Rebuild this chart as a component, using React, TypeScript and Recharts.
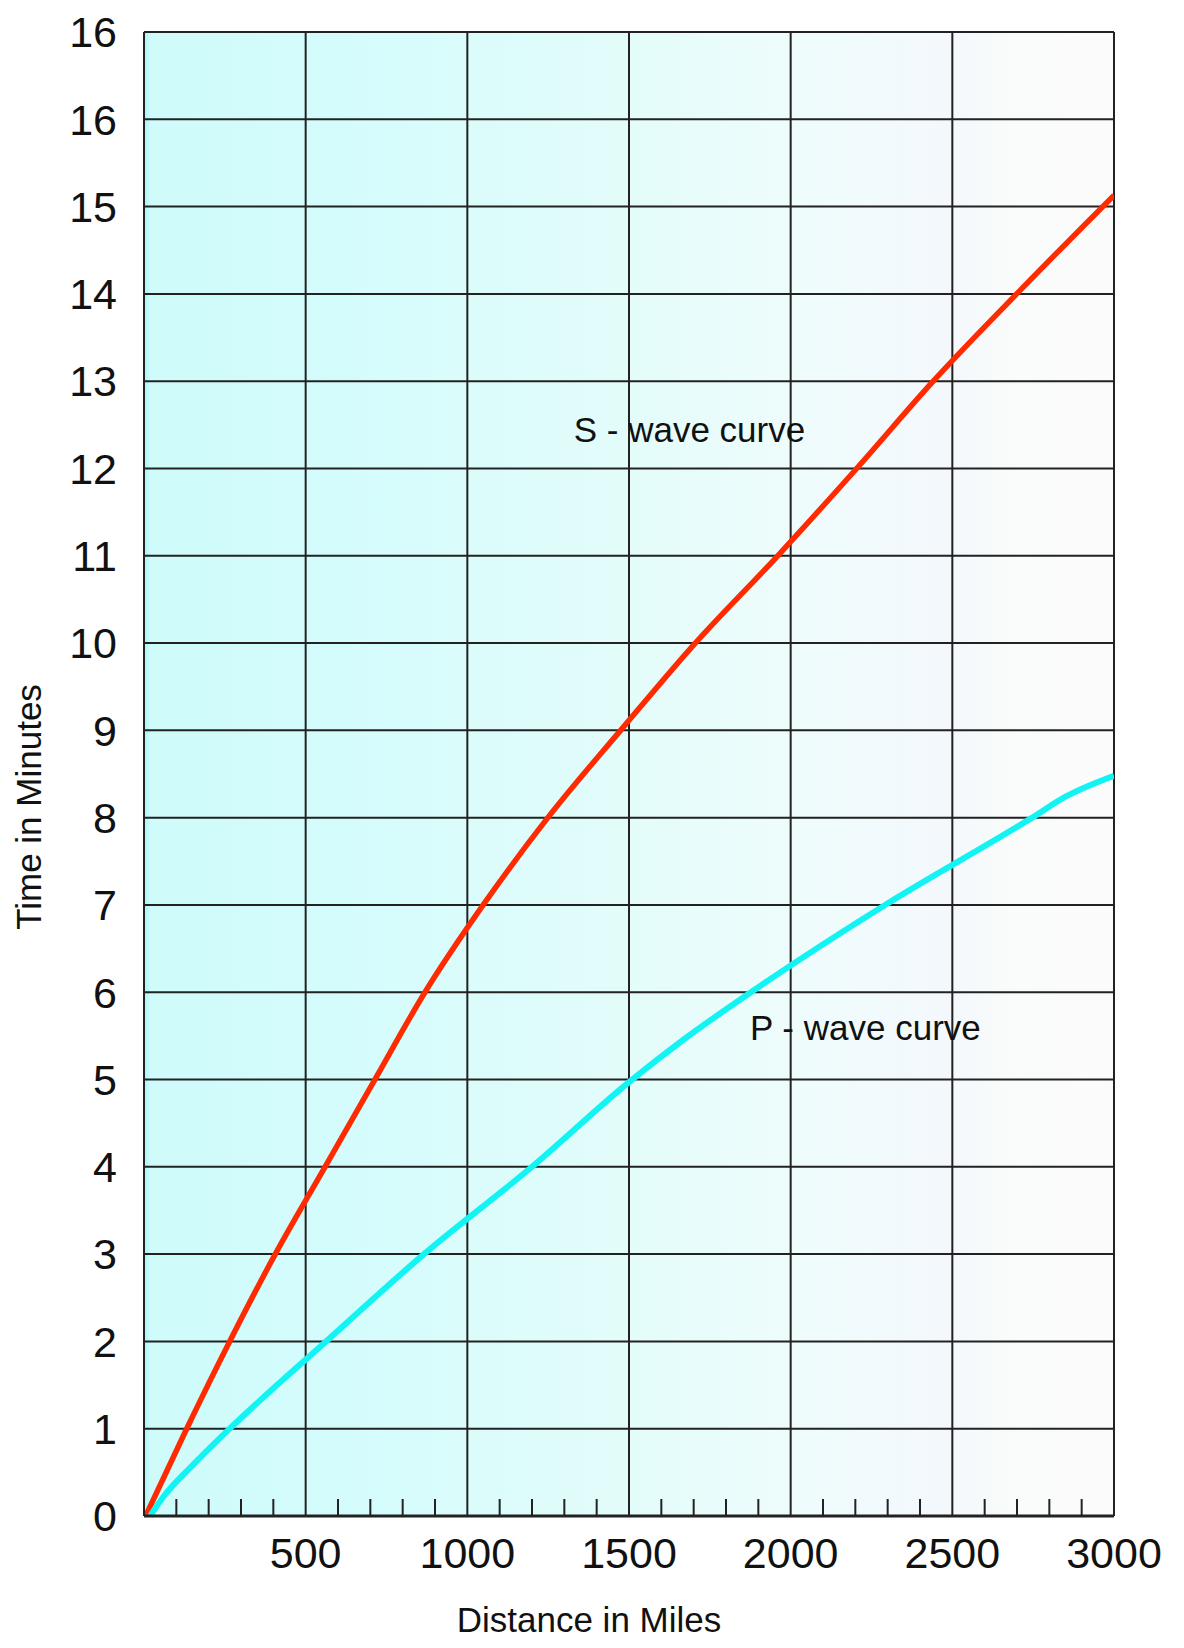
import React from "react";
import {
  LineChart,
  Line,
  XAxis,
  YAxis,
  CartesianGrid,
  ReferenceDot,
  Label,
} from "recharts";

// S-wave travel time (miles -> minutes)
const sWaveMiles = [5, 132, 265, 406, 560, 714, 869, 1049, 1249, 1474, 1705, 1960, 2204, 2441, 2699, 3000];
const sWaveMinutes = [0, 1, 2, 3, 4, 5, 6, 7, 8, 9, 10, 11, 12, 13, 14, 15.13];

// P-wave travel time (miles -> minutes)
const pWaveMiles = [19, 60, 150, 265, 563, 866, 1200, 1500, 1666, 1877, 2292, 2747, 2850, 3000];
const pWaveMinutes = [0, 0.22, 0.58, 1, 2, 3, 4, 4.97, 5.45, 6, 7, 8, 8.24, 8.48];

// Axis ticks
const yTickValues = [0, 1, 2, 3, 4, 5, 6, 7, 8, 9, 10, 11, 12, 13, 14, 15, 16, 17];
const yTickLabels = ["0", "1", "2", "3", "4", "5", "6", "7", "8", "9", "10", "11", "12", "13", "14", "15", "16", "16"];
const xTickValues = [100, 200, 300, 400, 500, 600, 700, 800, 900, 1000, 1100, 1200, 1300, 1400, 1500, 1600, 1700, 1800, 1900, 2000, 2100, 2200, 2300, 2400, 2500, 2600, 2700, 2800, 2900, 3000];
const xMajorTicks = [500, 1000, 1500, 2000, 2500, 3000];
const gridVerticals = [0, 500, 1000, 1500, 2000, 2500, 3000];

// Curve labels (data coordinates)
const curveLabels = [
  { text: "S - wave curve", miles: 1687, minutes: 12.44 },
  { text: "P - wave curve", miles: 2231, minutes: 5.6 },
];

const sWaveData = sWaveMiles.map((m, i) => ({ miles: m, minutes: sWaveMinutes[i] }));
const pWaveData = pWaveMiles.map((m, i) => ({ miles: m, minutes: pWaveMinutes[i] }));

const FONT = "'Liberation Sans', Arial, Helvetica, sans-serif";
const INK = "#111";
const GRID = "#222";

const XTick = (props: any) => {
  const { x, y, payload } = props;
  const v = payload.value;
  const major = xMajorTicks.includes(v);
  return (
    <g>
      {!major && (
        <line x1={x} x2={x} y1={y} y2={y - 17} stroke={GRID} strokeWidth={2} />
      )}
      {major && (
        <text x={x} y={y + 52} textAnchor="middle" fontSize={43} fill={INK} fontFamily={FONT}>
          {String(v)}
        </text>
      )}
    </g>
  );
};

const YTitle = (props: any) => {
  const vb = props.viewBox || { x: 0, y: 0, width: 0, height: 0 };
  const cx = vb.x + 20;
  const cy = vb.y + vb.height / 2 + 33;
  return (
    <text
      x={cx}
      y={cy}
      transform={`rotate(-90 ${cx} ${cy})`}
      textAnchor="middle"
      dominantBaseline="central"
      fontSize={35}
      fill={INK}
      fontFamily={FONT}
    >
      Time in Minutes
    </text>
  );
};

const XTitle = (props: any) => {
  const vb = props.viewBox || { x: 0, y: 0, width: 0, height: 0 };
  const cx = vb.x + vb.width / 2 - 40;
  const cy = vb.y + 116;
  return (
    <text x={cx} y={cy} textAnchor="middle" fontSize={35} fill={INK} fontFamily={FONT}>
      Distance in Miles
    </text>
  );
};

export default function App() {
  return (
    <div style={{ width: 1168, height: 1632, fontFamily: FONT }}>
      <svg width={0} height={0} style={{ position: "absolute" }}>
        <defs>
          <linearGradient id="bgGrad" x1="0" y1="0" x2="1" y2="0">
            <stop offset="0" stopColor="#a6f7f7" />
            <stop offset="0.007" stopColor="#cffbfb" />
            <stop offset="0.25" stopColor="#d6fcfc" />
            <stop offset="0.5" stopColor="#e3fcfa" />
            <stop offset="0.68" stopColor="#effcfc" />
            <stop offset="0.83" stopColor="#f4f8fc" />
            <stop offset="0.9" stopColor="#f9fcfa" />
            <stop offset="1" stopColor="#fbfbfb" />
          </linearGradient>
        </defs>
      </svg>
      <LineChart
        width={1168}
        height={1632}
        margin={{ top: 24, right: 62, bottom: 0, left: 0 }}
      >
        <CartesianGrid
          fill="url(#bgGrad)"
          fillOpacity={1}
          stroke={GRID}
          strokeWidth={2}
          verticalValues={gridVerticals}
          horizontalValues={yTickValues}
        />
        <XAxis
          type="number"
          dataKey="miles"
          domain={[0, 3000]}
          ticks={xTickValues}
          interval={0}
          allowDataOverflow
          height={124}
          tickLine={false}
          tickSize={0}
          tickMargin={0}
          tick={<XTick />}
          axisLine={{ stroke: GRID, strokeWidth: 3 }}
          label={<Label content={<XTitle />} />}
        />
        <YAxis
          type="number"
          domain={[0, 17]}
          ticks={yTickValues}
          interval={0}
          width={136}
          tickLine={false}
          tickSize={0}
          tickMargin={27}
          tickFormatter={(v: number) => yTickLabels[yTickValues.indexOf(v)]}
          tick={{ fontSize: 43, fill: INK, fontFamily: FONT }}
          axisLine={{ stroke: GRID, strokeWidth: 2 }}
          label={<Label content={<YTitle />} />}
        />
        <Line
          data={sWaveData}
          dataKey="minutes"
          type="monotone"
          stroke="#ff2a00"
          strokeWidth={5.5}
          dot={false}
          activeDot={false}
          isAnimationActive={false}
        />
        <Line
          data={pWaveData}
          dataKey="minutes"
          type="monotone"
          stroke="#12f4f4"
          strokeWidth={6}
          dot={false}
          activeDot={false}
          isAnimationActive={false}
        />
        {curveLabels.map((c) => (
          <ReferenceDot
            key={c.text}
            x={c.miles}
            y={c.minutes}
            r={0}
            fill="none"
            stroke="none"
            label={{ value: c.text, position: "center", fontSize: 35, fill: INK, fontFamily: FONT }}
          />
        ))}
      </LineChart>
    </div>
  );
}
